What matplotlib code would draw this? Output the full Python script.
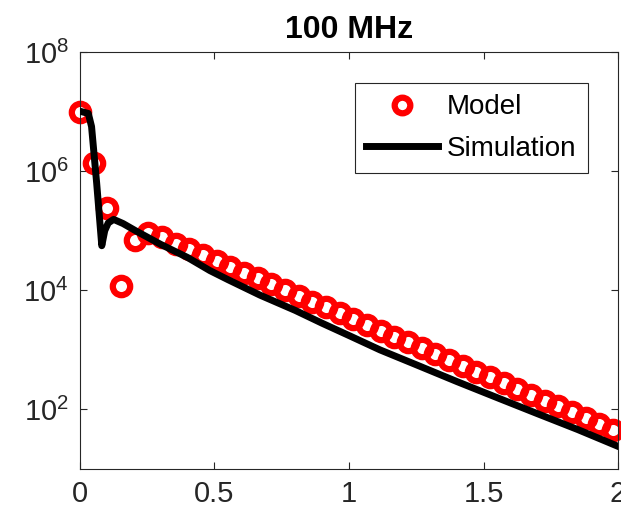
import matplotlib
matplotlib.use("Agg")
import matplotlib.pyplot as plt
from matplotlib.ticker import FixedLocator, NullLocator

plt.rcParams['font.family'] = ['Liberation Sans', 'DejaVu Sans']
plt.rcParams['mathtext.fontset'] = 'custom'
plt.rcParams['mathtext.rm'] = 'Liberation Sans'
plt.rcParams['mathtext.it'] = 'Liberation Sans'
plt.rcParams['mathtext.bf'] = 'Liberation Sans:bold'

title = "100 MHz"

model_x = [0.0, 0.051, 0.102, 0.152, 0.203, 0.254, 0.305, 0.356, 0.406, 0.457,
           0.508, 0.559, 0.610, 0.660, 0.711, 0.762, 0.813, 0.864, 0.914, 0.965,
           1.016, 1.067, 1.118, 1.168, 1.219, 1.270, 1.321, 1.372, 1.422, 1.473,
           1.524, 1.575, 1.626, 1.676, 1.727, 1.778, 1.829, 1.880, 1.930, 1.981]
model_y = [1.0e7, 1.37e6, 2.4e5, 1.17e4, 6.9e4, 9.1e4, 7.7e4, 6.1e4, 4.9e4, 3.9e4,
           3.1e4, 2.5e4, 1.98e4, 1.59e4, 1.27e4, 1.01e4, 8.1e3, 6.4e3, 5.15e3, 4.1e3,
           3.28e3, 2.62e3, 2.09e3, 1.67e3, 1.33e3, 1.06e3, 849, 678, 542, 433,
           345, 275, 220, 176, 140, 112, 89, 71, 57, 45.5]

sim_x = [0.005, 0.031, 0.043, 0.062, 0.081, 0.092, 0.105, 0.125, 0.16, 0.21,
         0.30, 0.40, 0.483, 0.55, 0.669, 0.80, 0.90, 1.0, 1.115, 1.25,
         1.40, 1.561, 1.70, 1.85, 2.0]
sim_y = [1.0e7, 9.3e6, 5.6e6, 6.3e5, 5.6e4, 1.0e5, 1.35e5, 1.55e5, 1.32e5, 9.8e4,
         5.9e4, 3.55e4, 2.14e4, 1.51e4, 8.3e3, 4.6e3, 2.8e3, 1.74e3, 1.0e3, 562,
         295, 151, 85, 46, 24]

x_ticks = [0, 0.5, 1, 1.5, 2]
x_tick_labels = ["0", "0.5", "1", "1.5", "2"]
y_ticks = [1e2, 1e4, 1e6, 1e8]
y_tick_labels = [r"$10^{2}$", r"$10^{4}$", r"$10^{6}$", r"$10^{8}$"]

fig = plt.figure(figsize=(6.21, 5.18), dpi=100)
ax = fig.add_axes([0.1288, 0.0946, 0.8664, 0.805])

ax.plot(model_x, model_y, linestyle='none', marker='o', markersize=12.5,
        markerfacecolor='none', markeredgecolor='#ff0000', markeredgewidth=4.5,
        clip_on=False, label='Model', zorder=2)
ax.plot(sim_x, sim_y, color='black', linewidth=5, label='Simulation', zorder=3)

ax.set_yscale('log')
ax.set_xlim(0, 2)
ax.set_ylim(10, 1e8)

ax.xaxis.set_major_locator(FixedLocator(x_ticks))
ax.set_xticklabels(x_tick_labels)
ax.yaxis.set_major_locator(FixedLocator(y_ticks))
ax.set_yticklabels(y_tick_labels)
ax.yaxis.set_minor_locator(NullLocator())
ax.xaxis.set_minor_locator(NullLocator())

axcol = '#262626'
for s in ax.spines.values():
    s.set_color(axcol)
    s.set_linewidth(0.8)
ax.tick_params(axis='both', which='major', direction='in', length=5, width=0.8,
               colors=axcol, labelsize=21, top=True, right=True, pad=8)

ax.set_title(title, fontsize=23, fontweight='bold', pad=10)

leg = ax.legend(loc='upper right', bbox_to_anchor=(0.97, 0.96), fontsize=20,
                frameon=True, fancybox=False, edgecolor=axcol, framealpha=1,
                handlelength=2.6, handletextpad=0.3, labelspacing=0.55,
                borderpad=0.42, numpoints=1, markerscale=0.9)
leg.get_frame().set_linewidth(0.8)

fig.savefig('out.png', dpi=100)
